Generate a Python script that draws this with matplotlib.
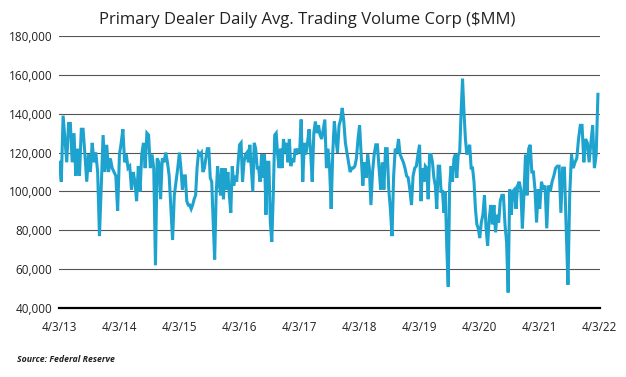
import pandas as pd
import numpy as np
import matplotlib.pyplot as plt
from matplotlib.ticker import FuncFormatter

# Weekly volume, in $ thousands of millions ($k MM), one list per year (4/3 to 4/3)
vol_2013 = [115, 105, 139, 127, 115, 135, 135, 115, 130, 108, 122, 108, 132, 132, 119, 105, 119,
            110, 125, 115, 120, 110, 77, 103, 129, 110, 124, 110, 117, 112, 110, 108, 90]
vol_2014 = [119, 125, 132, 115, 119, 112, 113, 101, 110, 105, 95, 113, 100, 119, 125,
            112, 130, 129, 112, 119, 112, 62, 117, 115, 96, 117, 115, 120, 115, 108, 91, 75, 98, 105, 112]
vol_2015 = [120, 112, 101, 108, 108, 95, 93, 93, 91, 93, 96, 98, 112, 120, 119, 120, 110, 112, 117,
            122, 122, 107, 105, 84, 65, 98, 113, 105, 98, 112, 96, 112, 101, 110, 98, 89, 113, 103, 108,
            105, 115]
vol_2016 = [124, 125, 105, 115, 119, 120, 115, 124, 112, 100, 125, 122, 112, 112, 105, 119, 107, 119,
            88, 115, 115, 84, 74, 98, 129, 130, 119, 112, 122, 112, 127, 120, 125, 115, 127, 113, 117,
            115, 122, 119, 122]
vol_2017 = [120, 137, 105, 125, 119, 125, 132, 120, 105, 130, 136, 130, 134, 129, 127, 132, 137, 112,
            122, 112, 91, 120, 136, 127, 120, 134, 137, 143, 136, 125, 120, 115, 110, 112, 112, 113,
            117, 127]
vol_2018 = [134, 119, 103, 115, 107, 119, 112, 93, 110, 119, 124, 124, 112, 101, 115, 101, 122, 122,
            101, 91, 77, 108, 122, 120, 127, 119, 117, 115, 112, 108, 107, 101, 93, 108, 112, 113, 119]
vol_2019 = [124, 95, 112, 105, 113, 112, 96, 119, 119, 115, 107, 103, 91, 113, 113, 100, 100, 89, 100,
            71, 51, 103, 113, 105, 117, 119, 107, 119, 120, 141, 158, 141, 127, 119, 122, 124, 112, 112,
            105, 91, 83, 81]
vol_2020 = [76, 84, 88, 98, 81, 72, 86, 93, 83, 93, 79, 88, 84, 95, 98, 98, 83, 74, 48,
            101, 88, 100, 101, 91, 103, 105, 101, 81, 98, 119, 98, 122, 124, 110, 110, 101, 84, 101]
vol_2021 = [91, 105, 101, 103, 81, 103, 100, 105, 108, 112, 113, 113, 89, 112, 112, 81, 52, 98, 119,
            112, 115, 117, 127, 134, 134, 115, 127, 125, 115, 125, 134, 112, 119, 150]
yearly = [vol_2013, vol_2014, vol_2015, vol_2016, vol_2017, vol_2018, vol_2019, vol_2020, vol_2021]

year_starts = [pd.Timestamp(f'{y}-04-03') for y in range(2013, 2023)]
tick_labels = [f'4/3/{y % 100}' for y in range(2013, 2023)]

# spread each year's readings evenly across that year
dates, values = [], []
for i, vals in enumerate(yearly):
    start, end = year_starts[i], year_starts[i + 1]
    step = (end - start) / len(vals)
    dates += [start + step * k for k in range(len(vals))]
    values += [v * 1000 for v in vals]

plt.rcParams['font.family'] = ['Open Sans', 'DejaVu Sans']

fig = plt.figure(figsize=(6.26, 3.77), dpi=100)
ax = fig.add_axes([0.095, 0.183, 0.863, 0.7215])

ax.plot(dates, values, color='#1ea3cf', linewidth=2.2, solid_joinstyle='miter')

ax.set_xlim(year_starts[0], year_starts[-1])
ax.set_ylim(40000, 180000)
ax.set_yticks(range(40000, 180001, 20000))
ax.yaxis.set_major_formatter(FuncFormatter(lambda v, p: f'{int(v):,}'))
ax.set_xticks(year_starts)
ax.set_xticklabels(tick_labels)
ax.set_xticks([year_starts[0], year_starts[-1]], minor=True)

ax.grid(axis='y', color='#555555', linewidth=0.8)
ax.set_axisbelow(True)
for s in ['top', 'right', 'left']:
    ax.spines[s].set_visible(False)
ax.spines['bottom'].set_linewidth(1.6)
ax.spines['bottom'].set_color('black')

ax.tick_params(axis='both', which='major', length=0, labelsize=8.5, colors='#222222')
ax.tick_params(axis='x', which='major', pad=9)
ax.tick_params(axis='y', pad=5)
ax.tick_params(axis='x', which='minor', length=5, width=1.6, direction='out', color='black')

fig.text(0.49, 0.947, 'Primary Dealer Daily Avg. Trading Volume Corp ($MM)',
         ha='center', va='center', fontsize=12, color='#222222')
fig.text(0.027, 0.047, 'Source: Federal Reserve', ha='left', va='center',
         fontsize=6.3, fontweight='bold', fontstyle='italic', color='#222222')

fig.savefig('out.png', dpi=100)
